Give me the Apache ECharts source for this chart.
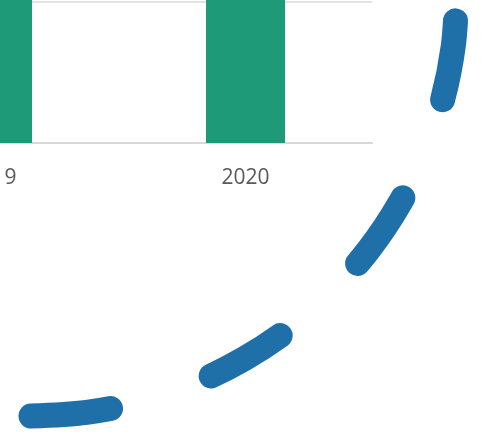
<!DOCTYPE html>
<html>
<head>
<meta charset="utf-8">
<script src="https://cdn.jsdelivr.net/npm/echarts@6/dist/echarts.min.js"></script>
<style>
html,body{margin:0;padding:0;background:#fff;}
#c{width:487px;height:434px;}
</style>
</head>
<body>
<div id="c"></div>
<script>
// Bar chart data
var categories = ['2019', '2020'];
var barValues = [82, 86];
// Dashed curve data (in its own 0-100 value space)
var curveX = [0, 13.05, 25.88, 38.27, 50.0, 60.88, 70.71, 79.34, 86.60, 92.39, 96.59, 99.14, 100];
var curveY = [0, 0.86, 3.41, 7.61, 13.40, 20.66, 29.29, 39.12, 50.0, 61.73, 74.12, 86.95, 100];

var curveData = curveX.map(function (x, i) { return [x, curveY[i]]; });

var chart = echarts.init(document.getElementById('c'), null, {renderer: 'canvas'});
chart.setOption({
  animation: false,
  backgroundColor: '#ffffff',
  grid: [
    {left: -134, right: 115, top: -140, bottom: 291, outerBoundsMode: 'none', containLabel: false},
    {left: 31, right: 30, top: -10, bottom: 18, outerBoundsMode: 'none', containLabel: false}
  ],
  xAxis: [
    {
      gridIndex: 0,
      type: 'category',
      data: categories,
      axisLine: {show: true, lineStyle: {color: '#d9d9d9', width: 2}},
      axisTick: {show: false},
      axisLabel: {color: '#595959', fontSize: 21, fontFamily: 'Open Sans', margin: 25}
    },
    {gridIndex: 1, type: 'value', min: 0, max: 100, show: false}
  ],
  yAxis: [
    {
      gridIndex: 0,
      type: 'value',
      min: 0, max: 100, interval: 50,
      axisLine: {show: false},
      axisTick: {show: false},
      axisLabel: {show: false},
      splitLine: {show: true, lineStyle: {color: '#d9d9d9', width: 1.5}}
    },
    {gridIndex: 1, type: 'value', min: 0, max: 100, show: false}
  ],
  series: [
    {
      type: 'bar',
      xAxisIndex: 0, yAxisIndex: 0,
      data: barValues,
      barWidth: 79,
      itemStyle: {color: '#1e9a78'}
    },
    {
      type: 'line',
      xAxisIndex: 1, yAxisIndex: 1,
      data: curveData,
      smooth: 0.33,
      showSymbol: false,
      clip: false,
      lineStyle: {color: '#1f6fa9', width: 25, type: [80, 106], cap: 'round', join: 'round'}
    }
  ]
});
</script>
</body>
</html>
